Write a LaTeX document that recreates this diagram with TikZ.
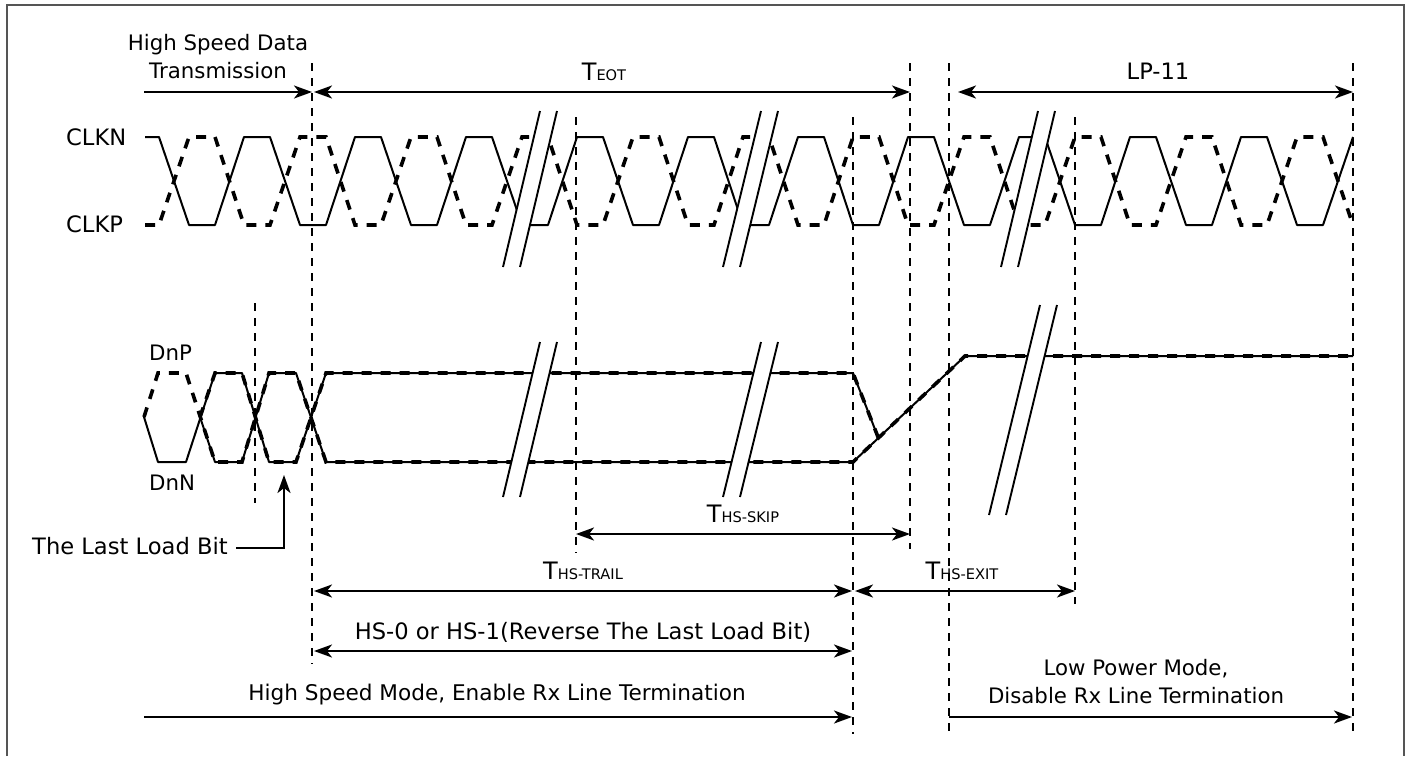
\documentclass[tikz,border=0pt]{standalone}
\usepackage{fontspec}
\setmainfont{DejaVu Sans}
\usetikzlibrary{arrows.meta}
\definecolor{frameGray}{RGB}{85,85,85}
\newcommand{\lowcaps}[1]{{\fontsize{14.6}{15}\selectfont #1}}

\begin{document}
\begin{tikzpicture}[
    x=1pt, y=-1pt,
    every node/.style={font=\fontsize{21.3}{28}\selectfont, inner sep=0pt},
    wide label/.style={font=\fontsize{22.6}{28}\selectfont},
    time label/.style={font=\fontsize{24}{28}\selectfont},
    sig solid/.style={line width=2pt, line join=round},
    sig dash/.style={line width=3.6pt, dash pattern=on 10pt off 9pt},
    tick line/.style={line width=2pt, dash pattern=on 8pt off 7pt},
    break gap/.style={fill=white, draw=none},
    break side/.style={line width=1.9pt},
    span/.style={line width=2.2pt, {Stealth[length=18pt,width=13pt,inset=5pt]}-{Stealth[length=18pt,width=13pt,inset=5pt]}},
    to end/.style={line width=2.2pt, -{Stealth[length=18pt,width=13pt,inset=5pt]}}
]
  \useasboundingbox (0,0) rectangle (1411,756);
  \draw[line width=2.4pt, draw=frameGray] (7,756) -- (7,5) -- (1404,5) -- (1404,756);

  % clock pair
  \draw[sig solid] (145,137) -- (159,137) foreach \t in {189,300,411,522,633,743,853,964,1075,1186} { -- (\t,225) -- ++(26,0) -- ++(29,-88) -- ++(26,0) } -- (1297,225) -- (1323,225) -- (1353,137);
  \draw[sig dash] (145,225) -- (159,225) foreach \t in {189,300,411,522,633,743,853,964,1075,1186} { -- (\t,137) -- ++(26,0) -- ++(29,88) -- ++(26,0) } -- (1297,137) -- (1323,137) -- (1353,225);

  % data pair
  \draw[sig solid] (144,417) -- (158,462) -- (186,462) -- (215,373) -- (242,373) -- (269,462) -- (296,462) -- (326,373) -- (853,373) -- (878,437);
  \draw[sig solid] (200,417) -- (215,462) -- (242,462) -- (269,373) -- (296,373) -- (326,462) -- (853,462) -- (965,356) -- (1353,356);
  \draw[sig dash] (144,417) -- (158,373) -- (186,373) -- (215,462) -- (242,462) -- (269,373) -- (296,373) -- (326,462) -- (853,462) -- (965,356) -- (1353,356);
  \draw[sig dash] (200,417) -- (215,373) -- (242,373) -- (269,462) -- (296,462) -- (326,373) -- (853,373) -- (878,437);

  % breaks
  \foreach \xa/\ya/\xb/\yb in {540/111/503/267, 761/111/723/267, 1038/111/1001/267, 540/342/503/497, 761/342/723/497, 1040/305/989/515} {
    \fill[break gap] (\xa,\ya) -- (\xa+17,\ya) -- (\xb+17,\yb) -- (\xb,\yb) -- cycle;
    \draw[break side] (\xa,\ya) -- (\xb,\yb);
    \draw[break side] (\xa+17,\ya) -- (\xb+17,\yb);
  }

  % time marks
  \foreach \mk/\x/\ya/\yb in {lastbit/255/303/503, hs/312/63/664, skip/576/117/553, trail/853/117/734, eot/910/63/549, lp/949/63/736, exit/1075/117/604, stop/1353/63/736} {
    \coordinate (\mk top) at (\x,\ya);
    \coordinate (\mk end) at (\x,\yb);
    \draw[tick line] (\mk top) -- (\mk end);
  }

  % labels
  \node[align=center] (hsdata) at (218,57) {High Speed Data\\Transmission};
  \node[time label] (teot) at (604,72) {T\lowcaps{EOT}};
  \node[wide label] (lp11) at (1158,71) {LP-11};
  \node[wide label, anchor=west] (clkn) at (66,137) {CLKN};
  \node[wide label, anchor=west] (clkp) at (66,224) {CLKP};
  \node[anchor=west] (dnp) at (149,353) {DnP};
  \node[anchor=west] (dnn) at (149,483) {DnN};
  \node[wide label, anchor=west] (lastload) at (32,546) {The Last Load Bit};
  \node[time label] (thsskip) at (743,514) {T\lowcaps{HS-SKIP}};
  \node[time label] (thstrail) at (583,571) {T\lowcaps{HS-TRAIL}};
  \node[time label] (thsexit) at (962,571) {T\lowcaps{HS-EXIT}};
  \node[wide label] (hsbit) at (583,632) {HS-0 or HS-1(Reverse The Last Load Bit)};
  \node[font=\fontsize{21.6}{28}\selectfont] (hsmode) at (497,695) {High Speed Mode, Enable Rx Line Termination};
  \node[align=center] (lpmode) at (1136,682) {Low Power Mode,\\Disable Rx Line Termination};

  % arrows
  \coordinate (a1) at (144,92);   \coordinate (a2) at (312,92);
  \coordinate (b1) at (314,92);   \coordinate (b2) at (910,92);
  \coordinate (c1) at (958,92);   \coordinate (c2) at (1353,92);
  \coordinate (d1) at (576,534);  \coordinate (d2) at (910,534);
  \coordinate (e1) at (314,591);  \coordinate (e2) at (852,591);
  \coordinate (f1) at (855,591);  \coordinate (f2) at (1075,591);
  \coordinate (g1) at (314,651);  \coordinate (g2) at (852,651);
  \coordinate (h1) at (144,717);  \coordinate (h2) at (852,717);
  \coordinate (i1) at (949,717);  \coordinate (i2) at (1352,717);
  \coordinate (out) at (236,548); \coordinate (bend) at (284,548); \coordinate (bit) at (284,475);

  \draw[to end] (a1) -- (a2);
  \draw[span] (b1) -- (b2);
  \draw[span] (c1) -- (c2);
  \draw[span] (d1) -- (d2);
  \draw[span] (e1) -- (e2);
  \draw[span] (f1) -- (f2);
  \draw[span] (g1) -- (g2);
  \draw[to end] (h1) -- (h2);
  \draw[to end] (i1) -- (i2);
  \draw[to end] (out) -- (bend) -- (bit);
\end{tikzpicture}
\end{document}
